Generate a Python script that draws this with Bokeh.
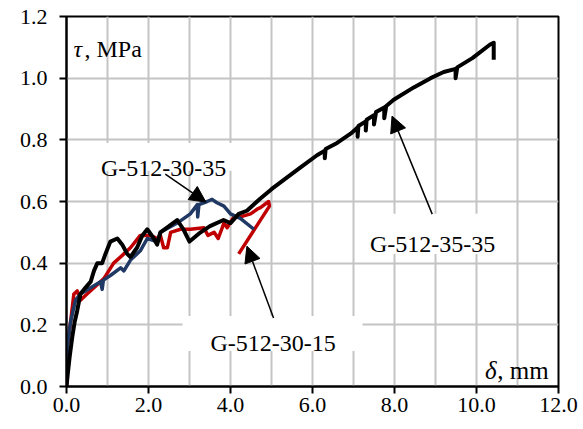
from bokeh.plotting import figure
from bokeh.models import FixedTicker, NumeralTickFormatter, Label, Arrow, NormalHead, BoxAnnotation
from bokeh.embed import file_html
from bokeh.resources import INLINE

# G-512-35-35 (black)
black_x = [0.0, 0.03, 0.08, 0.14, 0.2, 0.26, 0.34, 0.46, 0.59, 0.67, 0.75, 0.87, 0.95, 1.07, 1.24,
           1.36, 1.48, 1.56, 1.72, 1.85, 1.97, 2.13, 2.21, 2.29, 2.5, 2.7, 2.85, 3.0, 3.27, 3.5,
           3.83, 4.0, 4.2, 4.4, 4.73, 5.0, 5.3, 5.7, 6.11, 6.3, 6.3, 6.32, 6.6, 6.93, 7.1, 7.1,
           7.12, 7.3, 7.3, 7.32, 7.5, 7.5, 7.55, 7.75, 7.75, 7.8, 7.98, 8.47, 8.88, 9.2, 9.49,
           9.49, 9.53, 9.9, 10.34, 10.42, 10.42]
black_y = [0.0, 0.04, 0.10, 0.16, 0.21, 0.245, 0.30, 0.32, 0.34, 0.375, 0.40, 0.40, 0.43, 0.47, 0.48,
           0.46, 0.43, 0.42, 0.45, 0.49, 0.51, 0.48, 0.46, 0.50, 0.52, 0.54, 0.51, 0.47, 0.50, 0.52,
           0.54, 0.53, 0.56, 0.57, 0.61, 0.64, 0.67, 0.71, 0.75, 0.765, 0.74, 0.77, 0.79, 0.82, 0.84, 0.81,
           0.845, 0.86, 0.83, 0.865, 0.88, 0.85, 0.89, 0.905, 0.87, 0.91, 0.93, 0.97, 1.0, 1.02, 1.03,
           1.0, 1.035, 1.065, 1.11, 1.115, 1.06]

# G-512-30-15 (red)
red_x = [0.0, 0.02, 0.02, 0.1, 0.18, 0.26, 0.34, 0.5, 0.75, 0.91, 1.15, 1.4, 1.56, 1.8, 2.05, 2.21,
         2.29, 2.37, 2.46, 2.54, 2.78, 3.02, 3.35, 3.45, 3.6, 3.7, 3.84, 3.92, 4.08, 4.24, 4.49, 4.65,
         4.73, 4.93, 4.95, 4.2]
red_y = [0.0, 0.03, 0.13, 0.21, 0.30, 0.31, 0.28, 0.30, 0.33, 0.35, 0.40, 0.43, 0.45, 0.49, 0.49, 0.48,
         0.49, 0.45, 0.45, 0.50, 0.51, 0.51, 0.515, 0.49, 0.50, 0.48, 0.53, 0.515, 0.55, 0.55, 0.56, 0.575,
         0.58, 0.60, 0.585, 0.43]

# G-512-30-35 (blue)
blue_x = [0.0, 0.02, 0.1, 0.22, 0.34, 0.59, 0.83, 0.87, 0.9, 1.07, 1.32, 1.4, 1.56, 1.8, 1.97, 2.21,
          2.29, 2.7, 3.02, 3.19, 3.2, 3.23, 3.43, 3.55, 3.67, 3.84, 4.0, 4.24, 4.57]
blue_y = [0.04, 0.13, 0.21, 0.28, 0.30, 0.32, 0.34, 0.315, 0.345, 0.36, 0.385, 0.375, 0.41, 0.44, 0.48, 0.47,
          0.50, 0.53, 0.56, 0.59, 0.55, 0.59, 0.60, 0.607, 0.596, 0.585, 0.56, 0.545, 0.51]

x_ticks = [0, 2, 4, 6, 8, 10, 12]
x_minor = [1, 3, 5, 7, 9, 11]
y_ticks = [0.0, 0.2, 0.4, 0.6, 0.8, 1.0, 1.2]

# series annotation texts: (text, x, baseline y)
series_labels = [("G-512-30-35", 2.37, 0.709),
                 ("G-512-30-15", 5.04, 0.141),
                 ("G-512-35-35", 8.93, 0.462)]
# white boxes behind the annotation texts: (left, right, bottom, top)
label_boxes = [(0.585, 4.12, 0.70, 0.79),
               (2.83, 7.22, 0.115, 0.229),
               (7.22, 10.7, 0.43, 0.56)]
# arrows: (x_start, y_start, x_end, y_end)
arrow_specs = [(2.41, 0.689, 3.4, 0.598),
               (5.05, 0.222, 4.4, 0.455),
               (8.92, 0.559, 7.94, 0.877)]

FONT = "Liberation Serif"

p = figure(width=583, height=429, x_range=(0, 12), y_range=(0, 1.2),
           output_backend="svg", toolbar_location=None,
           min_border_left=66, min_border_right=25, min_border_top=16, min_border_bottom=43)
p.background_fill_color = "white"
p.border_fill_color = "white"
p.outline_line_color = "black"
p.outline_line_width = 2

for ax in (p.xaxis, p.yaxis):
    ax.axis_line_width = 2
    ax.axis_line_color = "black"
    ax.major_tick_line_width = 2
    ax.major_tick_line_color = "black"
    ax.major_tick_out = 7
    ax.major_tick_in = 0
    ax.minor_tick_line_color = None
    ax.major_label_text_font = FONT
    ax.major_label_text_font_size = "22px"
    ax.major_label_text_color = "black"

p.xaxis.ticker = FixedTicker(ticks=x_ticks, minor_ticks=x_minor)
p.yaxis.ticker = FixedTicker(ticks=y_ticks)
p.xaxis.formatter = NumeralTickFormatter(format="0.0")
p.yaxis.formatter = NumeralTickFormatter(format="0.0")
p.xaxis.major_label_standoff = 4
p.yaxis.major_label_standoff = 12

for g in (p.xgrid, p.ygrid):
    g.grid_line_color = "#c4c4c4"
    g.grid_line_width = 2
p.xgrid.minor_grid_line_color = "#c4c4c4"
p.xgrid.minor_grid_line_width = 2

p.line(red_x, red_y, line_color="#c00000", line_width=3.5, line_join="round")
p.line(blue_x, blue_y, line_color="#203864", line_width=3.5, line_join="round")
p.line(black_x, black_y, line_color="black", line_width=4, line_join="round")

for l, r, b, t in label_boxes:
    p.add_layout(BoxAnnotation(left=l, right=r, bottom=b, top=t, fill_color="white",
                               fill_alpha=1, line_color=None))

# axis titles inside the frame
p.add_layout(Label(x=0.17, y=1.095, text="τ", text_font=FONT, text_font_size="24px",
                   text_font_style="italic", text_color="black", text_baseline="alphabetic"))
p.add_layout(Label(x=0.17, y=1.095, x_offset=11, text=", MPa", text_font=FONT,
                   text_font_size="24px", text_color="black", text_baseline="alphabetic"))
p.add_layout(Label(x=11.76, y=0.053, x_offset=-52, text="δ", text_font=FONT, text_font_size="25px",
                   text_font_style="italic", text_color="black", text_align="right",
                   text_baseline="alphabetic"))
p.add_layout(Label(x=11.76, y=0.053, text=", mm", text_font=FONT, text_font_size="25px",
                   text_color="black", text_align="right", text_baseline="alphabetic"))

for txt, lx, ly in series_labels:
    p.add_layout(Label(x=lx, y=ly, text=txt, text_font=FONT, text_font_size="24px",
                       text_color="black", text_align="center", text_baseline="alphabetic"))

for xs, ys, xe, ye in arrow_specs:
    p.add_layout(Arrow(end=NormalHead(size=16, fill_color="black", line_color="black", line_width=1),
                       x_start=xs, y_start=ys, x_end=xe, y_end=ye,
                       line_color="black", line_width=1.5))

open("out.html", "w").write(file_html(p, INLINE))
